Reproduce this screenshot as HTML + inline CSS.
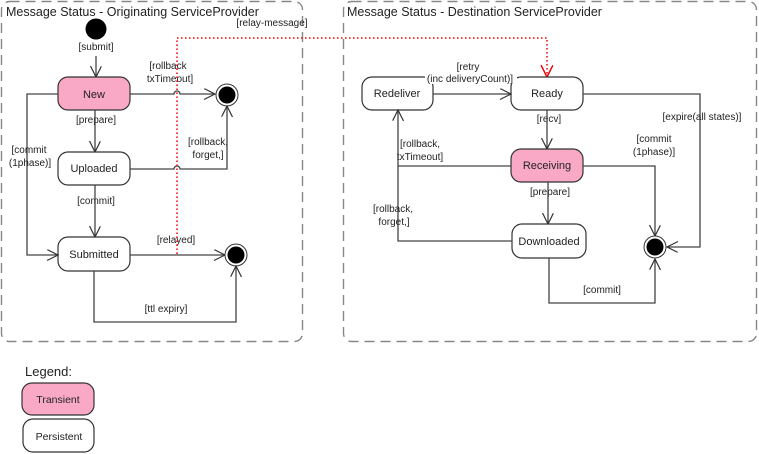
<!DOCTYPE html>
<html><head><meta charset="utf-8"><style>
html,body{margin:0;padding:0;background:#fff;width:759px;height:454px;overflow:hidden}
text{font-family:"Liberation Sans",sans-serif;font-size:10px;fill:#222}
.t{font-size:12.5px;fill:#222}
.st{font-size:11px;text-anchor:middle}
.c{text-anchor:middle}
.e{fill:none;stroke:#444;stroke-width:1.3}
.b{stroke:#333;stroke-width:1.2}
</style></head><body>
<svg width="759" height="454" viewBox="0 0 759 454" xmlns="http://www.w3.org/2000/svg">
<defs>
<marker id="a" markerWidth="14" markerHeight="14" refX="11" refY="5.5" orient="auto" markerUnits="userSpaceOnUse">
<polyline points="0,0 11,5.5 0,11" fill="none" stroke="#333" stroke-width="1.2"/></marker>
<marker id="r" markerWidth="14" markerHeight="14" refX="12" refY="6" orient="auto" markerUnits="userSpaceOnUse">
<polyline points="0,0 12,6 0,12" fill="none" stroke="#e00" stroke-width="1.4"/></marker>
</defs>
<rect x="1.5" y="1.5" width="301" height="340" rx="8" fill="none" stroke="#888" stroke-width="1.4" stroke-dasharray="10,6"/>
<rect x="343.5" y="1.5" width="413" height="340" rx="8" fill="none" stroke="#888" stroke-width="1.4" stroke-dasharray="10,6"/>
<text class="t" x="6" y="16">Message Status - Originating ServiceProvider</text>
<text class="t" x="347" y="16">Message Status - Destination ServiceProvider</text>

<!-- left -->
<circle cx="96" cy="29" r="10.5" fill="#000"/>
<text class="c" x="96" y="50">[submit]</text>
<path class="e" d="M96 56 V77" marker-end="url(#a)"/>
<rect class="b" x="58" y="77" width="72" height="33" rx="10" fill="#f9a9c6"/>
<text class="st" x="94" y="98">New</text>
<path class="e" d="M130 94 H174 a3 3 0 0 1 6 0 H215" marker-end="url(#a)"/>
<text class="c" x="168" y="69">[rollback</text><text class="c" x="170" y="82">txTimeout]</text>
<circle cx="227" cy="95" r="11" fill="#fff" stroke="#333"/><circle cx="227" cy="95" r="8.5" fill="#000"/>
<text class="c" x="96" y="123">[prepare]</text>
<path class="e" d="M95 110 V152" marker-end="url(#a)"/>
<rect class="b" x="58" y="152" width="72" height="33" rx="10" fill="#fff"/>
<text class="st" x="94" y="172">Uploaded</text>
<path class="e" d="M130 169 H174 a3 3 0 0 1 6 0 H227 V106" marker-end="url(#a)"/>
<text class="c" x="208" y="145">[rollback,</text><text class="c" x="208" y="158">forget,]</text>
<text class="c" x="96" y="204">[commit]</text>
<path class="e" d="M95 185 V237" marker-end="url(#a)"/>
<rect class="b" x="58" y="237" width="72" height="34" rx="10" fill="#fff"/>
<text class="st" x="94" y="258">Submitted</text>
<path class="e" d="M58 94 H27 V255 H58" marker-end="url(#a)"/>
<text class="c" x="29" y="153">[commit</text><text class="c" x="30" y="166">(1phase)]</text>
<path class="e" d="M130 255 H225" marker-end="url(#a)"/>
<text class="c" x="176" y="243">[relayed]</text>
<circle cx="236" cy="255" r="11" fill="#fff" stroke="#333"/><circle cx="236" cy="255" r="8.5" fill="#000"/>
<path class="e" d="M94 271 V322 H236 V266" marker-end="url(#a)"/>
<text class="c" x="166" y="312">[ttl expiry]</text>

<!-- red relay -->
<path d="M177 254 V38 H547 V77" fill="none" stroke="#e00" stroke-width="1.5" stroke-dasharray="1.5,2.5" marker-end="url(#r)"/>
<text class="c" x="272" y="26">[relay-message]</text>

<!-- right -->
<rect class="b" x="362" y="77" width="71" height="33" rx="10" fill="#fff"/>
<text class="st" x="397" y="97">Redeliver</text>
<rect class="b" x="511" y="77" width="72" height="33" rx="10" fill="#fff"/>
<text class="st" x="547" y="97">Ready</text>
<path class="e" d="M433 94 H511" marker-end="url(#a)"/>
<text class="c" x="468" y="70">[retry</text>
<rect x="425" y="72" width="92" height="12" fill="#fff"/>
<text class="c" x="470" y="82">(inc deliveryCount)]</text>
<path class="e" d="M583 94 H700 V247 H667" marker-end="url(#a)"/>
<text class="c" x="702" y="120">[expire(all states)]</text>
<text class="c" x="549" y="122">[recv]</text>
<path class="e" d="M547 110 V149" marker-end="url(#a)"/>
<rect class="b" x="511" y="149" width="72" height="33" rx="10" fill="#f9a9c6"/>
<text class="st" x="547" y="169">Receiving</text>
<path class="e" d="M511 166 H398 V110" marker-end="url(#a)"/>
<text class="c" x="420" y="147">[rollback,</text><text class="c" x="420" y="160">txTimeout]</text>
<path class="e" d="M583 166 H655 V236" marker-end="url(#a)"/>
<text class="c" x="654" y="142">[commit</text><text class="c" x="654" y="155">(1phase)]</text>
<text class="c" x="550" y="195">[prepare]</text>
<path class="e" d="M548 182 V224" marker-end="url(#a)"/>
<rect class="b" x="512" y="224" width="74" height="34" rx="10" fill="#fff"/>
<text class="st" x="549" y="245">Downloaded</text>
<path class="e" d="M512 241 H398 V166"/>
<text class="c" x="393" y="212">[rollback,</text><text class="c" x="394" y="225">forget,]</text>
<path class="e" d="M549 258 V303 H655 V259" marker-end="url(#a)"/>
<text class="c" x="602" y="293">[commit]</text>
<circle cx="655" cy="247" r="11" fill="#fff" stroke="#333"/><circle cx="655" cy="247" r="8.5" fill="#000"/>

<!-- legend -->
<text class="t" x="25" y="376" style="font-size:13px">Legend:</text>
<rect class="b" x="22" y="383" width="72" height="32" rx="10" fill="#f9a9c6"/>
<text class="c" x="58" y="403" style="font-size:10.5px">Transient</text>
<rect class="b" x="23" y="419" width="71" height="33" rx="10" fill="#fff"/>
<text class="c" x="59" y="440" style="font-size:10.5px">Persistent</text>
</svg>
</body></html>
